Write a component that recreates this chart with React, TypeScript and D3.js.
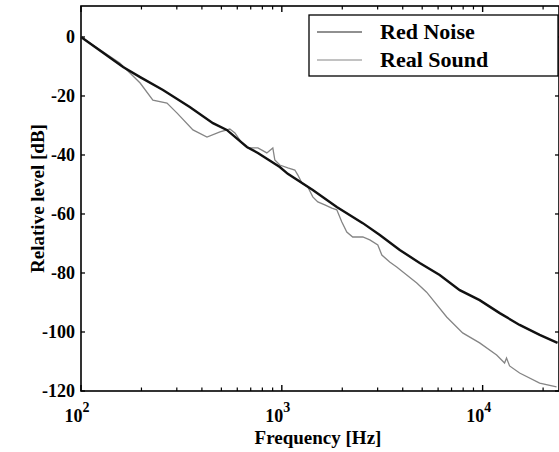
import { useEffect, useRef } from 'react'
import * as d3 from 'd3'

// Values (frequency in Hz, level in dB)
const redNoiseFreq = [100, 162, 197, 256, 348, 454, 532, 670, 760, 977, 1071, 1426, 1878, 2531, 3076, 3866, 4860, 6111, 7690, 9660, 12160, 15280, 19230, 23600]
const redNoiseLevel = [0, -10.2, -13.6, -18.0, -23.7, -29.2, -31.5, -37.3, -39.3, -44.1, -46.4, -51.9, -57.6, -63.1, -67.1, -72.2, -76.6, -80.7, -85.8, -89.2, -93.6, -97.6, -101.0, -103.7]

const realSoundFreq = [100, 156, 197, 228, 268, 301, 361, 424, 492, 551, 584, 632, 677, 760, 842, 902, 923, 977, 1071, 1161, 1202, 1259, 1347, 1426, 1511, 1637, 1774, 1878, 1990, 2106, 2254, 2531, 2742, 3006, 3148, 3445, 3733, 4188, 4699, 5260, 6620, 7950, 9660, 11740, 12860, 13150, 13620, 15280, 19230, 23330]
const realSoundLevel = [0, -8.8, -15.6, -21.4, -22.4, -25.8, -31.5, -33.9, -32.2, -31.2, -32.5, -35.9, -37.6, -37.6, -39.3, -37.6, -41.7, -43.4, -44.4, -45.1, -46.8, -49.5, -50.8, -54.2, -55.9, -56.9, -58.0, -58.6, -62.7, -66.1, -67.8, -67.8, -68.8, -70.5, -73.9, -76.3, -78.0, -80.7, -83.4, -86.5, -94.9, -100.3, -103.7, -107.8, -110.5, -108.8, -111.5, -113.9, -117.3, -118.6]

const yTicks = [0, -20, -40, -60, -80, -100, -120]
const xMajorTicks = [2, 3, 4] // exponents
const seriesNames = ['Red Noise', 'Real Sound']

const FONT = '"Liberation Serif", "Times New Roman", serif'

export default function App() {
  const svgRef = useRef<SVGSVGElement>(null)
  const width = 559
  const height = 452

  useEffect(() => {
    if (!svgRef.current) return
    const svg = d3.select(svgRef.current)
    svg.selectAll('*').remove()

    const left = 81, right = 559, top = 6, bottom = 391

    const x = d3.scaleLog().domain([100, 24000]).range([left, right])
    const y = d3.scaleLinear().domain([-120, 10.5]).range([bottom, top])

    const g = svg.append('g')

    // minor + major x ticks
    const minor: number[] = []
    for (let d = 100; d <= 10000; d *= 10) {
      for (let m = 2; m <= 9; m++) if (d * m < 24000) minor.push(d * m)
    }
    minor.forEach(v => {
      g.append('line').attr('x1', x(v)).attr('x2', x(v)).attr('y1', bottom).attr('y2', bottom - 3.5)
        .attr('stroke', '#000').attr('stroke-width', 1.2)
      g.append('line').attr('x1', x(v)).attr('x2', x(v)).attr('y1', top).attr('y2', top + 3.5)
        .attr('stroke', '#000').attr('stroke-width', 1.2)
    })
    xMajorTicks.forEach(e => {
      const v = Math.pow(10, e)
      g.append('line').attr('x1', x(v)).attr('x2', x(v)).attr('y1', bottom).attr('y2', bottom - 6)
        .attr('stroke', '#000').attr('stroke-width', 1.4)
      g.append('line').attr('x1', x(v)).attr('x2', x(v)).attr('y1', top).attr('y2', top + 6)
        .attr('stroke', '#000').attr('stroke-width', 1.4)
      const t = g.append('text')
        .attr('x', x(v) - 4)
        .attr('y', 422)
        .attr('text-anchor', 'middle')
        .attr('font-family', FONT)
        .attr('font-weight', 'bold')
        .attr('font-size', 18)
        .attr('fill', '#000')
      t.append('tspan').text('10')
      t.append('tspan').attr('dy', -10).attr('font-size', 14).text(String(e))
    })

    // y ticks, left and right
    yTicks.forEach(v => {
      g.append('line').attr('x1', left).attr('x2', left + 4).attr('y1', y(v)).attr('y2', y(v))
        .attr('stroke', '#000').attr('stroke-width', 1.3)
      g.append('line').attr('x1', right).attr('x2', right - 4).attr('y1', y(v)).attr('y2', y(v))
        .attr('stroke', '#000').attr('stroke-width', 1.3)
      g.append('text')
        .attr('x', 75)
        .attr('y', y(v) + 6)
        .attr('text-anchor', 'end')
        .attr('font-family', FONT)
        .attr('font-weight', 'bold')
        .attr('font-size', 18)
        .attr('fill', '#000')
        .text(String(v))
    })

    // frame
    g.append('rect')
      .attr('x', left).attr('y', top)
      .attr('width', right - left).attr('height', bottom - top)
      .attr('fill', 'none').attr('stroke', '#000').attr('stroke-width', 1.6)

    // curves
    const line = d3.line<[number, number]>().x(d => x(d[0])).y(d => y(d[1]))
    const realData = realSoundFreq.map((f, i) => [f, realSoundLevel[i]] as [number, number])
    const redData = redNoiseFreq.map((f, i) => [f, redNoiseLevel[i]] as [number, number])

    g.append('path').attr('d', line(realData)).attr('fill', 'none')
      .attr('stroke', '#858585').attr('stroke-width', 1.3)
    g.append('path').attr('d', line(redData)).attr('fill', 'none')
      .attr('stroke', '#111').attr('stroke-width', 2.4)

    // legend
    const lg = g.append('g')
    lg.append('rect').attr('x', 309).attr('y', 15).attr('width', 249).attr('height', 61)
      .attr('fill', '#fff').attr('stroke', '#000').attr('stroke-width', 1.3)
    const legendColors = ['#222', '#858585']
    seriesNames.forEach((name, i) => {
      const ly = 32 + i * 28
      lg.append('line').attr('x1', 317).attr('x2', 362).attr('y1', ly).attr('y2', ly)
        .attr('stroke', legendColors[i]).attr('stroke-width', 1.2)
      lg.append('text')
        .attr('x', 380)
        .attr('y', ly + 7)
        .attr('font-family', FONT)
        .attr('font-weight', 'bold')
        .attr('font-size', 22)
        .attr('fill', '#000')
        .text(name)
    })

    // axis labels
    g.append('text')
      .attr('x', 318)
      .attr('y', 444)
      .attr('text-anchor', 'middle')
      .attr('font-family', FONT)
      .attr('font-weight', 'bold')
      .attr('font-size', 19)
      .attr('fill', '#000')
      .text('Frequency [Hz]')

    g.append('text')
      .attr('transform', `translate(44,${(top + bottom) / 2}) rotate(-90)`)
      .attr('text-anchor', 'middle')
      .attr('font-family', FONT)
      .attr('font-weight', 'bold')
      .attr('font-size', 19)
      .attr('fill', '#000')
      .text('Relative level [dB]')
  }, [])

  return (
    <svg
      ref={svgRef}
      width={width}
      height={height}
      style={{ position: 'absolute', left: 0, top: 0, background: '#fff' }}
    />
  )
}
